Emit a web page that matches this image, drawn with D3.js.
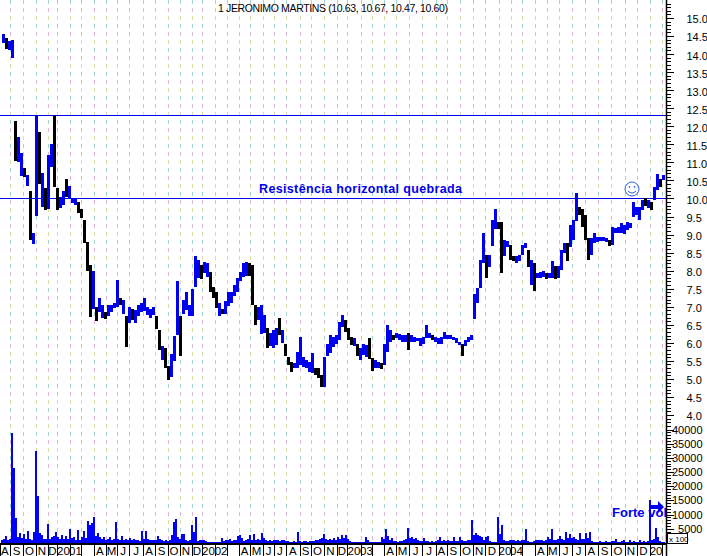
<!DOCTYPE html>
<html>
<head>
<meta charset="utf-8">
<script src="https://cdn.jsdelivr.net/npm/d3@7"></script>
<style>
    html, body { margin: 0; padding: 0; background: #fff; }
    text { font-family: "Liberation Sans", Arial, sans-serif; fill: #000; }
    .tick text { font-size: 11px; }
    .domain, .tick line { stroke: #000; shape-rendering: crispEdges; }
</style>
</head>
<body>
<div id="chart"></div>
<script>
// weekly high / low. one bar every week from aug 2000
var priceHigh = [
    14.55,14.45,14.35,14.4,12.15,11.7,11.25,10.85,10.65,10.2,
    9.05,12.3,11.85,10.7,10.3,11.2,11.5,12.3,10.3,10.05,
    10.2,10.55,10.35,10.0,10.0,9.9,9.7,9.4,8.8,8.15,
    8.0,7.0,7.25,7.05,6.85,7.05,7.05,7.1,7.75,7.25,
    7.2,6.75,7.0,6.95,6.9,7.05,7.1,7.25,7.0,6.95,
    7.0,6.75,6.35,5.9,5.85,5.35,5.7,6.2,7.7,6.75,
    7.2,7.4,7.05,7.5,8.4,8.3,8.15,8.25,8.2,7.95,
    7.55,7.4,7.1,6.95,7.15,7.4,7.4,7.6,7.8,7.95,
    8.2,8.25,8.2,8.15,7.05,7.0,7.05,6.77,6.4,6.26,
    6.35,6.4,6.68,6.35,5.98,5.62,5.48,5.43,5.75,6.17,
    5.62,5.53,5.48,5.71,5.3,5.3,5.11,5.62,5.98,6.22,
    6.17,6.22,6.58,6.77,6.63,6.4,6.17,6.12,5.98,5.85,
    5.97,5.94,6.12,5.57,5.53,5.48,5.43,5.98,6.49,6.35,
    6.22,6.26,6.24,6.22,6.22,6.26,6.22,6.17,6.12,6.12,
    6.17,6.49,6.26,6.22,6.17,6.12,6.17,6.31,6.22,6.22,
    6.15,6.12,6.03,5.98,6.08,6.17,6.22,7.35,7.53,8.3,
    9.04,8.44,8.44,9.4,9.72,9.36,9.36,8.85,8.81,8.72,
    8.4,8.4,8.44,8.72,8.76,8.58,8.3,8.21,7.94,7.96,
    7.98,7.94,7.94,8.26,8.12,8.12,8.58,8.76,8.76,9.27,
    9.4,10.14,9.77,9.72,9.54,8.9,8.9,9.04,8.93,8.93,
    8.93,8.9,8.85,9.22,9.17,9.22,9.31,9.27,9.36,9.31,
    9.91,9.77,9.77,9.95,10.0,9.95,9.91,10.32,10.68,10.55,
    10.64
];
var priceLow = [
    14.3,14.15,14.1,13.9,11.05,11.0,10.6,10.6,10.35,8.85,
    8.75,9.5,10.4,9.75,9.7,9.7,10.85,10.3,9.7,9.75,
    9.8,10.05,10.0,9.85,9.8,9.6,9.45,8.75,8.0,6.7,
    6.95,6.6,6.85,6.7,6.65,6.75,6.85,6.95,7.0,7.05,
    6.8,5.9,6.55,6.65,6.55,6.75,6.85,6.9,6.78,6.7,
    6.78,6.4,5.8,5.5,5.3,4.95,5.05,5.5,6.2,5.65,
    6.8,6.9,6.75,6.75,7.55,7.8,7.75,7.95,7.8,7.4,
    7.25,6.95,6.75,6.8,6.8,7.0,7.1,7.3,7.4,7.7,
    7.8,7.85,7.85,7.05,6.5,6.63,6.26,6.26,5.85,5.9,
    5.85,5.94,6.22,5.98,5.66,5.39,5.2,5.3,5.3,5.39,
    5.34,5.3,5.2,5.16,5.11,5.02,4.79,4.79,5.66,5.71,
    5.89,5.98,6.08,6.45,6.31,6.08,5.94,5.89,5.66,5.53,
    5.66,5.62,5.53,5.2,5.3,5.3,5.25,5.39,5.75,6.03,
    6.08,6.12,6.08,6.03,6.03,5.78,6.03,6.03,6.03,5.89,
    5.98,6.12,6.12,6.08,6.03,5.94,5.98,6.12,6.12,6.11,
    6.06,5.98,5.94,5.66,5.91,6.03,6.08,6.66,7.12,7.53,
    8.21,7.8,8.12,8.67,9.17,9.17,7.94,8.4,8.63,8.3,
    8.26,8.21,8.26,8.44,8.63,8.12,7.62,7.44,7.8,7.8,
    7.8,7.76,7.8,7.8,7.76,7.8,8.03,8.49,8.26,8.67,
    8.85,9.36,9.54,9.22,8.85,8.3,8.44,8.76,8.79,8.81,
    8.81,8.79,8.67,8.72,9.04,9.04,9.04,9.02,9.13,9.17,
    9.49,9.54,9.42,9.68,9.77,9.72,9.68,9.95,10.23,10.32,
    10.5
];
// b = up week (blue), k = down week (black)
var barColor = (
    "bkbbkbbkbk" + "bbkbkbbkkb" + "bkbbbkkkkk" + "bkbbkbbbbk" + "bkbkbbbbbb" +
    "bkkbkkbbbk" + "bbbbbbkbbk" + "kkbkbbbbbb" + "bbkkkbbbkb" + "bbkbkkkbbb" +
    "bbbbkkkbbb" + "bbbbkkkbkb" + "bbkkbbkbbb" + "kbbbbkbbbb" + "bbbkbbbbbb" +
    "bbbkbbbbbb" + "bkbbbkkbbk" + "kbbbbkbkbb" + "bkbbkbbbkb" + "bbkkkkbbbb" +
    "bbkbbbbbbb" + "bbbbkbkbbk" + "b"
).split("");

// volume, in units of x 100, one value every two thirds of a week
var volume = [
    1200,1500,2600,1200,1500,38700,26400,8800,2000,3500,
    1800,3000,1500,4300,1500,1200,3900,32300,16600,3500,
    2800,1500,1500,6800,1500,2000,2500,3900,2000,1500,
    2800,1500,2500,1500,5000,1800,2200,1000,4700,1200,
    2000,4100,1700,7800,6500,7000,9150,2500,3500,2000,
    1500,2000,1200,1500,2000,1000,1500,7300,1500,1000,
    2400,1200,1500,1000,1800,1000,1300,900,1100,800,
    4100,1500,4300,1500,1000,1200,900,1100,2500,1500,
    1000,800,900,800,1000,2800,7500,8400,2000,1500,
    3000,3200,1000,800,1000,6500,4000,9150,800,1000,
    1100,900,800,300,200,200,200,300,300,400,
    1800,600,1200,1000,1300,800,1100,900,2500,2800,
    1800,800,1000,1500,2900,1200,3000,1000,1400,1200,
    3700,1800,1000,800,1100,800,1000,1100,900,700,
    900,1000,800,600,400,500,700,400,4000,600,
    500,600,800,500,700,600,800,1000,900,1500,
    1800,3300,1500,1000,1500,1000,1800,1200,2000,1500,
    2900,1700,2900,1500,800,400,300,400,300,300,
    400,300,2100,1000,400,200,200,300,200,300,
    2000,1500,5000,2500,1200,1800,700,600,500,600,
    800,1000,1300,5400,1800,2000,1500,1800,900,800,
    700,1600,800,600,500,600,500,700,900,2000,
    800,1200,700,1000,600,800,2000,800,600,2000,
    900,800,600,900,1200,8200,2800,3500,2800,2400,
    2000,1000,2000,2500,600,500,400,500,9100,3000,
    6500,1000,600,800,1200,900,1000,800,1100,700,
    900,1000,4900,800,500,400,600,1200,900,1200,
    1000,800,1100,2000,1400,4900,1200,1000,1500,2500,
    1500,1200,3800,1800,3000,1600,2000,1300,1000,3500,
    1500,1300,3500,1800,3800,800,400,400,300,600,
    300,400,700,400,500,800,600,1500,500,400,
    600,1200,500,400,1000,500,700,400,500,900,
    400,600,500,700,15200,900,1500,5300,2000,800,
    400,300
];

// week number where each month starts
var monthStart = [
    3.3,7.7,12,16,19,23.3,27,31.3,35.3,39,43,47.7,51.7,56,60,64,67.3,71.7,
    75.7,79.7,83.3,87.7,91.3,95.3,100,103.7,108,112.3,115.7,120.3,124,128,
    132,136.3,140.7,145.3,149,153.3,157.7,161.7,166.3,170.3,174,178.3,182.3,
    186.3,190.7,195,199.3,203.7,208.3,212.3,216.7,220.7
];
// label inside each month, years are split over jan and feb
var monthLabel = [
    "A","S","O","N","D","20","01","",
    "A","M","J","J","A","S","O","N","D","20","02","",
    "A","M","J","J","A","S","O","N","D","20","03","",
    "A","M","J","J","A","S","O","N","D","20","04","",
    "A","M","J","J","A","S","O","N","D","20",""
];

var priceTicks = d3.range(4, 15.01, 0.5);
var priceMinorTicks = d3.range(0, 125).map(function (d) { return 3 + d / 10; });
var volumeTicks = [5000, 10000, 15000, 20000, 25000, 30000, 35000, 40000];
var volumeMinorTicks = d3.range(1000, 41000, 1000);
var levelLines = [12.3, 10.0];

var title = "1 JERONIMO MARTINS (10.63, 10.67, 10.47, 10.60)";
var note1 = "Resistência horizontal quebrada";
var note2 = "Forte vol";

var w = 707, h = 556;
var plotRight = 666, plotBottom = 543;
var blue = "#0000f0";

var svg = d3.select("#chart")
    .append("svg")
    .attr("width", w)
    .attr("height", h)
    .style("display", "block");

var xScale = d3.scaleLinear().domain([0, 222]).range([0, plotRight]);
var yScale = d3.scaleLinear().domain([4, 15]).range([415, 18]);
var volScale = d3.scaleLinear().domain([0, 40000]).range([plotBottom, 429.5]);

// month grid, three pale colours taking turns along each line
var gridColors = ["#a4d4d4", "#dcb8dc", "#dcdca8"];
gridColors.forEach(function (c, k) {
    svg.append("g").selectAll("line")
        .data(monthStart)
        .enter()
        .append("line")
        .attr("x1", function (d) { return Math.round(xScale(d)) + 0.5; })
        .attr("x2", function (d) { return Math.round(xScale(d)) + 0.5; })
        .attr("y1", 0)
        .attr("y2", plotBottom)
        .attr("stroke", c)
        .attr("stroke-dasharray", "4 20")
        .attr("stroke-dashoffset", -k * 8);
});

// the two horizontal levels
svg.append("g").selectAll("line")
    .data(levelLines)
    .enter()
    .append("line")
    .attr("x1", 0)
    .attr("x2", plotRight)
    .attr("y1", function (d) { return Math.round(yScale(d)) + 0.5; })
    .attr("y2", function (d) { return Math.round(yScale(d)) + 0.5; })
    .attr("stroke", blue)
    .attr("stroke-width", 1);

// price bars
svg.append("g").selectAll("rect")
    .data(priceHigh)
    .enter()
    .append("rect")
    .attr("x", function (d, i) { return Math.round(xScale(i + 1)) - 1; })
    .attr("width", 3)
    .attr("y", function (d) { return Math.round(yScale(d)); })
    .attr("height", function (d, i) { return Math.max(1, Math.round(yScale(priceLow[i]) - yScale(d))); })
    .attr("fill", function (d, i) { return barColor[i] == "k" ? "#000" : blue; })
    .attr("shape-rendering", "crispEdges");

// volume bars
svg.append("g").selectAll("rect")
    .data(volume)
    .enter()
    .append("rect")
    .attr("x", function (d, i) { return Math.round(xScale((i + 1) * 2 / 3)) - 1; })
    .attr("width", 2)
    .attr("y", function (d) { return volScale(d); })
    .attr("height", function (d) { return plotBottom - volScale(d); })
    .attr("fill", "#0000ff")
    .attr("shape-rendering", "crispEdges");

// right axes
var priceAxis = d3.axisRight(yScale)
    .tickValues(priceTicks)
    .tickSize(7)
    .tickPadding(13)
    .tickFormat(d3.format(".1f"));
var priceMinor = d3.axisRight(yScale)
    .tickValues(priceMinorTicks.filter(function (d) { return yScale(d) < 428 && yScale(d) > 0; }))
    .tickSize(4)
    .tickFormat("");
var volAxis = d3.axisRight(volScale)
    .tickValues(volumeTicks)
    .tickSize(7)
    .tickPadding(3)
    .tickFormat(d3.format("d"));
var volMinor = d3.axisRight(volScale)
    .tickValues(volumeMinorTicks)
    .tickSize(4)
    .tickFormat("");

svg.append("g").attr("transform", "translate(" + (plotRight + 0.5) + ",0)").call(priceMinor)
    .select(".domain").remove();
var priceG = svg.append("g").attr("transform", "translate(" + (plotRight + 0.5) + ",0)").call(priceAxis);
priceG.select(".domain").remove();
priceG.selectAll(".tick text").attr("dy", "0.45em");
svg.append("g").attr("transform", "translate(" + (plotRight + 0.5) + ",0)").call(volMinor)
    .select(".domain").remove();
var volG = svg.append("g").attr("transform", "translate(" + (plotRight + 0.5) + ",0)").call(volAxis);
volG.select(".domain").remove();
volG.selectAll(".tick text").attr("x", 36).attr("text-anchor", "end");

svg.append("line")
    .attr("x1", plotRight + 0.5).attr("x2", plotRight + 0.5)
    .attr("y1", 0).attr("y2", h)
    .attr("stroke", "#000").attr("stroke-width", 1.5);

// bottom axis: line, month separators and labels
var bottomAxis = d3.axisBottom(xScale)
    .tickValues(monthStart)
    .tickSize(h - plotBottom)
    .tickFormat("");
svg.append("g")
    .attr("transform", "translate(0," + (plotBottom + 0.5) + ")")
    .call(bottomAxis)
    .call(function (g) { g.select(".domain").attr("stroke-width", 1.5); });

svg.append("g").selectAll("text")
    .data(monthLabel)
    .enter()
    .append("text")
    .attr("x", function (d, i) {
        var a = i == 0 ? 0 : monthStart[i - 1];
        var b = i < monthStart.length ? monthStart[i] : 222;
        return xScale((a + b) / 2);
    })
    .attr("y", 555)
    .attr("text-anchor", "middle")
    .attr("font-size", "11.5px")
    .text(function (d) { return d; });

// x 100 box
svg.append("rect")
    .attr("x", 667.5).attr("y", 533.5)
    .attr("width", 20).attr("height", 10)
    .attr("fill", "#fff").attr("stroke", "#000");
svg.append("text")
    .attr("x", 669).attr("y", 541.5)
    .attr("font-size", "8px")
    .text("x 100");

// title and notes
svg.append("text")
    .attr("x", 218).attr("y", 12)
    .attr("font-size", "10.5px")
    .attr("textLength", 230)
    .attr("lengthAdjust", "spacing")
    .text(title);

svg.append("text")
    .attr("x", 259).attr("y", 193)
    .attr("font-size", "12.5px")
    .attr("font-weight", "bold")
    .attr("textLength", 203)
    .attr("lengthAdjust", "spacing")
    .style("fill", blue)
    .text(note1);

svg.append("text")
    .attr("x", 612).attr("y", 517)
    .attr("font-size", "13px")
    .attr("font-weight", "bold")
    .attr("textLength", 55)
    .attr("lengthAdjust", "spacing")
    .style("fill", blue)
    .text(note2);

// arrow towards the volume spike
svg.append("path")
    .attr("d", "M651,505H658V501L664,507L658,513V509H651Z")
    .attr("fill", blue);

// smiley
var smile = svg.append("g").attr("transform", "translate(632,189)")
    .attr("fill", "none").attr("stroke", "#3060e0");
smile.append("circle").attr("r", 7);
smile.append("path").attr("d", "M-4,2Q0,6 4,2");
smile.append("circle").attr("cx", -2.5).attr("cy", -2).attr("r", 0.6);
smile.append("circle").attr("cx", 2.5).attr("cy", -2).attr("r", 0.6);
</script>
</body>
</html>
